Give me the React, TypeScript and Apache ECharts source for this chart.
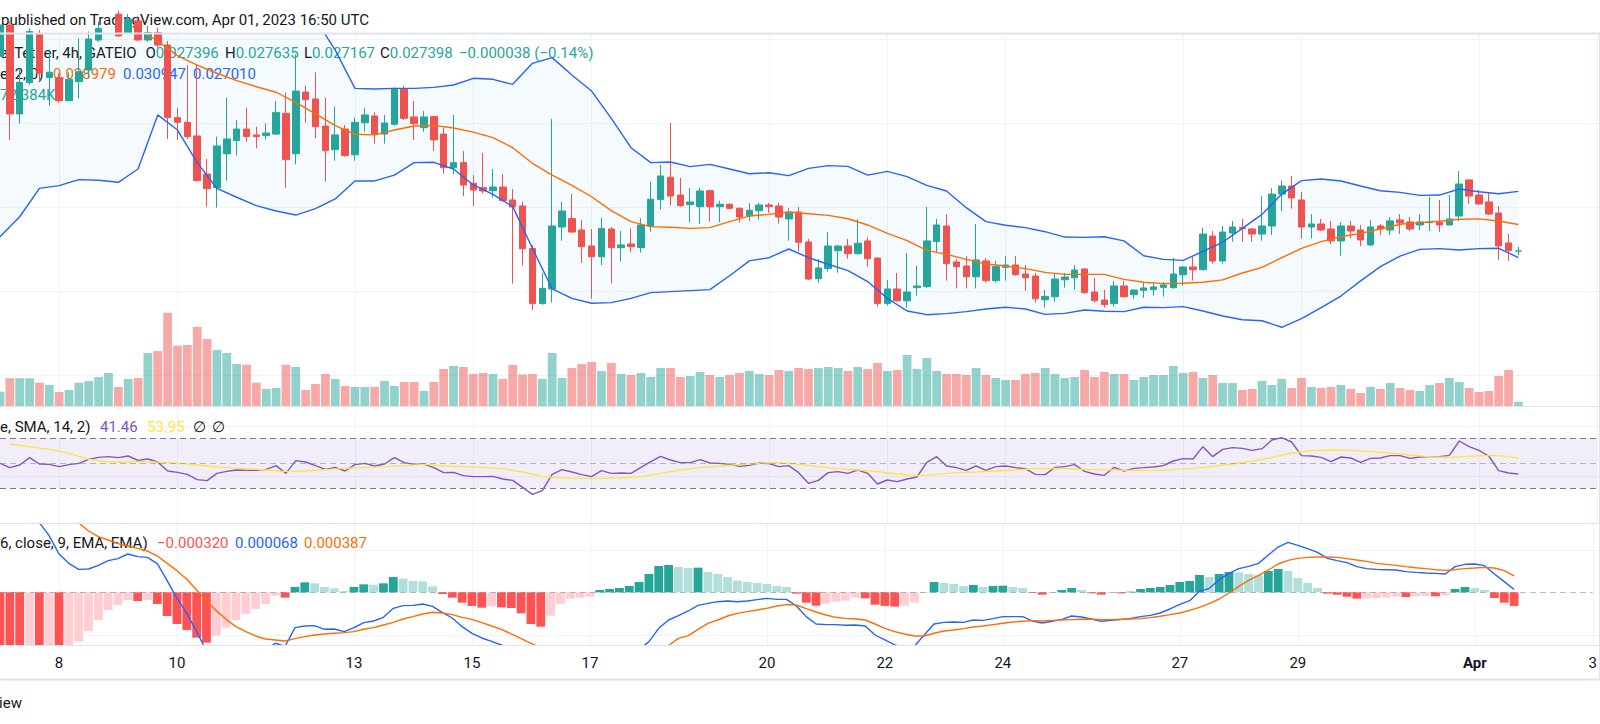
import React, { useEffect, useRef } from "react";
import * as echarts from "echarts";

// ---------------- DATA ----------------
// 4h candles, index 0 = 2023-03-07 00:00 UTC ... last = 2023-04-01 16:00 UTC
// Prices in units of 1e-5 USDT
const OPEN = [
  3900, 4085, 3556, 3742, 4036, 3772,
  3772, 3635, 3748, 3817, 3996, 4070, 4150, 4035, 4110, 3996,
  4040, 3966, 3534, 3506, 3425, 3198, 3117, 3319, 3397, 3466,
  3431, 3427, 3436, 3559, 3319, 3686, 3645, 3484, 3343, 3466,
  3313, 3504, 3544, 3436, 3494, 3704, 3538, 3474, 3540, 3436,
  3236, 3266, 3143, 3117, 3099, 3121, 3044, 3008, 2756, 2427,
  2514, 2883, 2933, 2865, 2770, 2706, 2871, 2760, 2782, 2760,
  2887, 3046, 3179, 3073, 3016, 3004, 3099, 3004, 3018, 2994,
  2950, 2980, 3014, 3008, 2931, 2972, 2794, 2575, 2635, 2742,
  2770, 2724, 2800, 2698, 2427, 2514, 2444, 2522, 2528, 2796,
  2889, 2675, 2651, 2587, 2681, 2564, 2643, 2657, 2603, 2591,
  2450, 2468, 2569, 2581, 2633, 2496, 2448, 2427, 2532, 2480,
  2506, 2510, 2524, 2522, 2599, 2645, 2629, 2829, 2681, 2847,
  2879, 2871, 2841, 2889, 3079, 3127, 3044, 2883, 2901, 2871,
  2800, 2889, 2865, 2776, 2889, 2865, 2925, 2913, 2895, 2909,
  2911, 2895, 2948, 3163, 3073, 3032, 2966, 2788, 2739.6,
];
const HIGH = [
  4120, 4105, 3827, 4065, 4055, 3927,
  3798, 3804, 4006, 4046, 4105, 4200, 4170, 4150, 4140, 4080,
  4070, 3990, 3593, 3847, 3847, 3288, 3421, 3653, 3520, 3593,
  3480, 3500, 3633, 3684, 3911, 3724, 3804, 3653, 3599, 3490,
  3534, 3593, 3565, 3550, 3714, 3724, 3633, 3573, 3546, 3474,
  3550, 3335, 3192, 3323, 3228, 3198, 3109, 3034, 2776, 2609,
  3526, 3032, 3079, 2923, 2871, 2937, 2883, 2859, 2875, 2935,
  3153, 3252, 3502, 3175, 3115, 3115, 3105, 3040, 3024, 3000,
  3024, 3028, 3026, 3026, 2996, 3002, 2812, 2692, 2853, 2776,
  2812, 2931, 2823, 2700, 2568, 2609, 2728, 2653, 3002, 2931,
  2960, 2692, 2710, 2901, 2698, 2681, 2710, 2710, 2657, 2609,
  2508, 2609, 2609, 2657, 2639, 2579, 2508, 2562, 2562, 2510,
  2552, 2556, 2556, 2698, 2651, 2710, 2879, 2859, 2889, 2919,
  2931, 2877, 3067, 3113, 3159, 3187, 3091, 2960, 2931, 2919,
  2913, 2919, 2895, 2925, 2901, 2942, 2960, 2942, 2960, 3062,
  3044, 3073, 3216, 3165, 3103, 3091, 3008, 2841, 2763.5,
];
const LOW = [
  3850, 3401, 3498, 3728, 3748, 3605,
  3623, 3630, 3649, 3768, 3986, 4040, 4016, 4030, 3990, 3985,
  3950, 3407, 3401, 3407, 3153, 3004, 2998, 3159, 3308, 3391,
  3351, 3405, 3431, 3117, 3256, 3504, 3411, 3153, 3278, 3302,
  3278, 3450, 3379, 3379, 3486, 3520, 3401, 3450, 3335, 3200,
  3196, 3067, 3008, 3083, 3058, 3035, 2546, 2653, 2389, 2420,
  2433, 2802, 2849, 2669, 2456, 2657, 2546, 2677, 2732, 2730,
  2855, 2988, 3010, 3004, 2909, 2901, 2915, 2911, 2988, 2909,
  2919, 2929, 2966, 2903, 2802, 2736, 2568, 2552, 2617, 2611,
  2694, 2720, 2647, 2409, 2415, 2439, 2403, 2474, 2520, 2732,
  2564, 2518, 2518, 2518, 2552, 2552, 2564, 2593, 2504, 2433,
  2403, 2439, 2522, 2510, 2486, 2433, 2403, 2409, 2462, 2456,
  2462, 2474, 2468, 2516, 2534, 2564, 2625, 2665, 2665, 2796,
  2796, 2796, 2802, 2835, 2978, 2992, 2814, 2814, 2859, 2782,
  2710, 2817, 2770, 2770, 2835, 2835, 2841, 2859, 2865, 2859,
  2853, 2893, 2919, 3020, 3014, 2954, 2687, 2681, 2716.7,
];
const CLOSE = [
  4085, 3556, 3744, 4046, 3798, 3804,
  3635, 3762, 3807, 4002, 4065, 4150, 4020, 4120, 3996, 4040,
  3966, 3534, 3506, 3421, 3159, 3111, 3365, 3407, 3466, 3421,
  3421, 3442, 3565, 3284, 3692, 3641, 3480, 3337, 3431, 3308,
  3506, 3550, 3436, 3502, 3704, 3530, 3498, 3538, 3401, 3236,
  3266, 3133, 3103, 3097, 3121, 3040, 3002, 2754, 2427, 2518,
  2889, 2978, 2853, 2766, 2706, 2875, 2760, 2776, 2766, 2895,
  3048, 3187, 3067, 3010, 3032, 3097, 3004, 3018, 2994, 2942,
  2982, 3014, 3004, 2942, 2972, 2792, 2573, 2639, 2770, 2770,
  2724, 2786, 2694, 2427, 2514, 2444, 2496, 2532, 2800, 2895,
  2665, 2647, 2587, 2687, 2564, 2647, 2657, 2599, 2581, 2456,
  2470, 2573, 2585, 2627, 2492, 2444, 2421, 2532, 2468, 2508,
  2520, 2526, 2538, 2603, 2645, 2629, 2841, 2681, 2853, 2883,
  2873, 2841, 2889, 3079, 3127, 3056, 2883, 2901, 2865, 2800,
  2889, 2859, 2806, 2883, 2871, 2919, 2907, 2871, 2913, 2913,
  2895, 2931, 3139, 3067, 3020, 2960, 2770, 2743.6, 2739.8,
];
// Volume in thousands
const VOLUME_K = [
  241, 465, 465, 465, 392, 353,
  235, 269, 392, 420, 487, 554, 319, 454, 470, 890,
  924, 1568, 1014, 1025, 1327, 1126, 941, 890, 706, 694,
  392, 286, 302, 694, 655, 269, 370, 538, 454, 336,
  319, 319, 319, 420, 336, 403, 403, 252, 403, 622,
  672, 655, 538, 554, 538, 454, 689, 530, 538, 454,
  890, 470, 638, 706, 739, 588, 722, 538, 521, 554,
  487, 638, 638, 487, 504, 571, 521, 487, 521, 554,
  588, 538, 521, 605, 588, 638, 622, 638, 655, 638,
  588, 655, 622, 722, 588, 605, 857, 622, 806, 588,
  538, 538, 521, 638, 521, 470, 437, 437, 538, 554,
  638, 538, 470, 487, 605, 487, 571, 538, 538, 437,
  487, 521, 521, 672, 554, 571, 470, 521, 386, 386,
  269, 286, 420, 353, 454, 302, 470, 319, 302, 319,
  353, 286, 218, 319, 286, 386, 302, 269, 252, 353,
  386, 470, 403, 302, 235, 252, 504, 605, 72.384,
];
// Bollinger bands (20, 2), sampled every second candle from the first, plus the last candle
const BB_UPPER = [
  5735, 5596, 5387, 5311, 5215, 5139, 5071, 4892, 4430, 4346,
  4428, 4483, 4448, 4426, 4392, 4296, 4120, 3936, 3708, 3704,
  3708, 3708, 3714, 3728, 3768, 3762, 3732, 3857, 3891, 3788,
  3692, 3530, 3355, 3266, 3270, 3242, 3256, 3228, 3200, 3206,
  3189, 3232, 3248, 3244, 3192, 3214, 3183, 3131, 3097, 2998,
  2915, 2893, 2879, 2855, 2823, 2821, 2825, 2800, 2712, 2690,
  2684, 2738, 2792, 2875, 2958, 3079, 3159, 3169, 3157, 3127,
  3099, 3089, 3071, 3073, 3109, 3093, 3081, 3094.7,
];
const BB_BASIS = [
  4280, 4270, 4250, 4220, 4190, 4150, 4110, 4060, 3990, 3903,
  3847, 3798, 3754, 3718, 3685, 3625, 3556, 3486, 3435, 3431,
  3460, 3484, 3488, 3472, 3448, 3415, 3355, 3262, 3192, 3131,
  3063, 2980, 2915, 2885, 2881, 2875, 2879, 2915, 2948, 2958,
  2972, 2962, 2952, 2932, 2895, 2845, 2802, 2744, 2720, 2690,
  2663, 2651, 2635, 2613, 2601, 2601, 2601, 2571, 2554, 2546,
  2548, 2554, 2568, 2609, 2643, 2700, 2756, 2796, 2825, 2845,
  2871, 2899, 2909, 2917, 2929, 2931, 2919, 2897.9,
];
const BB_LOWER = [
  2825, 2944, 3113, 3129, 3165, 3161, 3149, 3228, 3550, 3460,
  3266, 3113, 3060, 3010, 2978, 2954, 2992, 3050, 3157, 3157,
  3192, 3266, 3268, 3228, 3133, 3077, 3004, 2756, 2514, 2458,
  2429, 2433, 2458, 2492, 2498, 2504, 2510, 2593, 2681, 2700,
  2752, 2700, 2661, 2623, 2558, 2458, 2383, 2361, 2367, 2379,
  2395, 2405, 2395, 2363, 2369, 2389, 2381, 2379, 2405, 2403,
  2409, 2383, 2353, 2331, 2325, 2286, 2337, 2403, 2472, 2562,
  2647, 2710, 2750, 2754, 2746, 2754, 2756, 2701,
];
// RSI (14), one value per candle
const RSI = [
  50.0, 46.53, 48.67, 54.53, 49.47, 49.2,
  47.33, 48.93, 50, 53.2, 54.8, 55.33, 54.53, 55.87, 52.4, 53.47,
  51.07, 43.87, 42.8, 41.2, 36.93, 36.13, 42, 43.6, 44.67, 44.4,
  44.4, 45.2, 48.13, 42, 52.13, 51.07, 48.13, 45.2, 46.8, 43.87,
  48.93, 50, 47.87, 49.47, 54.53, 50.53, 49.2, 49.47, 46.53, 42.53,
  42.8, 40.13, 39.33, 39.33, 39.6, 37.47, 36.4, 30.8, 25.2, 28.13,
  41.2, 44.93, 43.07, 40.93, 39.33, 44.13, 42, 42.27, 42, 46.8,
  51.33, 55.6, 52.67, 50.53, 50.53, 52.93, 50.27, 50, 49.2, 47.6,
  48.4, 50.27, 49.73, 47.33, 48.13, 42.53, 34, 36.4, 42.53, 43.33,
  42, 44.67, 42, 33.47, 36.67, 35.33, 37.47, 39.07, 50.8, 55.33,
  47.87, 46.53, 44.4, 47.87, 44.4, 47.33, 47.87, 46.53, 45.73, 41.2,
  40.93, 46.8, 47.33, 48.93, 43.6, 41.47, 40.4, 46.8, 43.87, 46,
  46.53, 47.07, 48.13, 51.87, 53.73, 53.47, 63.33, 55.33, 61.2, 62.53,
  62, 60.4, 61.73, 68.67, 70.53, 67.07, 56.13, 55.87, 54.8, 51.33,
  55.07, 54.27, 50.8, 54, 54.27, 56.13, 56.13, 54, 55.07, 55.33,
  55.33, 56.4, 67.87, 63.33, 60.4, 55.87, 44.13, 42.27, 41.46,
];
// RSI-based SMA (14), sampled every second candle from the second, plus the last candle
const RSI_MA = [
  65.47, 63.33, 61.2, 58, 53.2, 51.07, 51.07, 51.33, 50.53, 49.47,
  47.87, 46.53, 45.73, 44.67, 43.33, 43.87, 44.93, 46, 46.8, 47.33,
  48.13, 49.2, 47.87, 47.33, 46.8, 45.73, 43.07, 39.33, 38.27, 37.73,
  38, 38.27, 39.33, 42, 44.67, 46.53, 47.87, 48.93, 50, 50.53,
  49.2, 47.33, 45.73, 44.67, 43.33, 41.47, 40.13, 41.2, 42.53, 43.07,
  43.87, 44.67, 45.73, 46, 45.47, 44.93, 44.67, 44.4, 44.4, 44.93,
  46, 47.6, 49.47, 51.87, 54.53, 58.27, 60.13, 60.67, 60.4, 59.33,
  58.27, 56.67, 55.33, 54.8, 55.6, 56.4, 55.6, 53.95,
];
// MACD (12, 26, 9), units of 1e-6
const MACD_LINE = [
  3100, 2750, 2350, 2050, 1640, 1333,
  902, 682, 541, 549, 635, 745, 792, 902, 839, 823,
  674, 274, -141, -494, -925, -1380, -1450, -1466, -1459, -1435,
  -1419, -1372, -1199, -1270, -831, -792, -784, -870, -862, -925,
  -831, -713, -674, -588, -376, -314, -306, -274, -329, -478,
  -604, -808, -964, -1074, -1152, -1239, -1348, -1584, -1945, -2108,
  -1929, -1714, -1639, -1655, -1662, -1525, -1517, -1498, -1451, -1355,
  -1160, -847, -651, -549, -439, -306, -259, -220, -204, -220,
  -204, -172, -141, -165, -165, -321, -572, -745, -760, -760,
  -776, -768, -792, -1004, -1121, -1239, -1294, -1270, -1004, -745,
  -706, -698, -706, -651, -659, -619, -572, -572, -572, -674,
  -721, -682, -635, -557, -580, -627, -682, -659, -643, -612,
  -572, -541, -486, -392, -282, -196, 24, 94, 298, 447,
  557, 612, 682, 878, 1066, 1176, 1105, 1027, 941, 800,
  745, 698, 604, 557, 541, 533, 525, 486, 470, 455,
  447, 431, 604, 659, 666, 627, 431, 251, 68,
];
const MACD_SIGNAL = [
  4600, 4350, 4050, 3700, 3400, 3050,
  2652, 1982, 1639, 1443, 1309, 1231, 1145, 1090, 1035, 972,
  855, 682, 510, 306, 55, -196, -431, -635, -808, -925,
  -1027, -1098, -1121, -1145, -1090, -1043, -1004, -980, -964, -949,
  -925, -870, -831, -768, -706, -627, -572, -510, -470, -486,
  -525, -588, -635, -713, -792, -870, -980, -1090, -1200, -1300,
  -1380, -1440, -1490, -1530, -1560, -1580, -1595, -1600, -1600, -1598,
  -1591, -1450, -1250, -1082, -1019, -870, -729, -651, -557, -494,
  -455, -416, -376, -321, -290, -298, -384, -463, -533, -588,
  -612, -627, -651, -745, -847, -925, -980, -1027, -1027, -964,
  -909, -886, -855, -815, -792, -760, -729, -698, -682, -666,
  -674, -659, -651, -643, -635, -635, -643, -643, -635, -627,
  -619, -596, -564, -525, -486, -423, -353, -267, -157, -16,
  141, 282, 400, 525, 666, 753, 800, 823, 831, 831,
  823, 792, 760, 729, 682, 659, 635, 604, 580, 557,
  533, 517, 533, 557, 572, 588, 572, 510, 387,
];
const MACD_HIST = [
  -1500, -1600, -1700, -1650, -1760, -1720,
  -1750, -1300, -1160, -909, -651, -416, -298, -180, -204, -180,
  -274, -557, -745, -886, -1066, -1184, -1019, -831, -651, -510,
  -392, -274, -78, -125, 125, 235, 212, 125, 94, 31,
  125, 188, 180, 212, 361, 321, 267, 259, 141, -39,
  -125, -243, -321, -361, -329, -353, -368, -494, -745, -808,
  -549, -274, -149, -125, -102, 55, 78, 102, 149, 243,
  431, 619, 643, 596, 572, 580, 478, 431, 361, 274,
  243, 220, 196, 149, 125, -31, -243, -314, -267, -220,
  -196, -125, -141, -290, -321, -337, -314, -243, -16, 243,
  220, 196, 149, 172, 125, 149, 157, 125, 102, -16,
  -55, -16, 55, 102, 55, -24, -55, -16, -24, 16,
  78, 102, 125, 172, 243, 267, 408, 361, 431, 478,
  470, 431, 408, 502, 549, 502, 337, 220, 102, -31,
  -55, -102, -149, -141, -133, -125, -102, -110, -94, -86,
  -94, -78, 78, 125, 102, 55, -133, -243, -320,
];
const TICK_DATES = [
  "2023-03-08 00:00", "2023-03-10 00:00", "2023-03-13 00:00", "2023-03-15 00:00",
  "2023-03-17 00:00", "2023-03-20 00:00", "2023-03-22 00:00", "2023-03-24 00:00",
  "2023-03-27 00:00", "2023-03-29 00:00", "2023-04-01 00:00", "2023-04-03 00:00",
];
const TICK_LABELS = ["8", "10", "13", "15", "17", "20", "22", "24", "27", "29", "Apr", "3"];
const PRICE_GRID_VALUES = { min: 2000, max: 4000, step: 500 };

// ---------------- LAYOUT / STYLE ----------------
const W = 1600;
const H = 724;
const FIRST_K = -6; // index 0 is six candles before 2023-03-08 00:00
const LAST_K = FIRST_K + CLOSE.length - 1;
const CAT_COUNT = 163; // through 2023-04-03 00:00
const START_TS = Date.UTC(2023, 2, 7, 0, 0);
const STEP_MS = 4 * 3600 * 1000;
const X0 = 56; // pixel of 2023-03-08 00:00
const STEP_PX = 9.88;
const GRID_LEFT = X0 + FIRST_K * STEP_PX;
const GRID_WIDTH = (CAT_COUNT - 1) * STEP_PX;
const PANE_W = 1599;

const MAIN_TOP = 34;
const MAIN_BOTTOM = 406;
const PRICE_REF = 3000;
const PRICE_REF_Y = 207.33;
const PRICE_PX = 84 / 500;
const PRICE_MAX = PRICE_REF + (PRICE_REF_Y - MAIN_TOP) / PRICE_PX;
const PRICE_MIN = PRICE_REF - (MAIN_BOTTOM - PRICE_REF_Y) / PRICE_PX;
const VOL_PX = 1 / 16.8;
const VOL_MAX = (MAIN_BOTTOM - MAIN_TOP) / VOL_PX;

const RSI_TOP = 406;
const RSI_BOTTOM = 523.33;
const RSI_MID_Y = 463.33;
const RSI_PX = 1.25;
const RSI_MAX = 50 + (RSI_MID_Y - RSI_TOP) / RSI_PX;
const RSI_MIN = 50 - (RSI_BOTTOM - RSI_MID_Y) / RSI_PX;

const MACD_TOP = 523.33;
const MACD_BOTTOM = 645;
const MACD_ZERO_Y = 592.33;
const MACD_PX = 42.5 / 1000;
const MACD_MAX = (MACD_ZERO_Y - MACD_TOP) / MACD_PX;
const MACD_MIN = -(MACD_BOTTOM - MACD_ZERO_Y) / MACD_PX;

const UP = "#26a69a";
const DOWN = "#ef5350";
const VOL_UP = "rgba(38,166,154,0.5)";
const VOL_DOWN = "rgba(239,83,80,0.5)";
const BLUE = "#2962ff";
const ORANGE = "#ff6d00";
const PURPLE = "#7e57c2";
const YELLOW = "#fde541";
const GRID_C = "#f0f3fa";
const SEP_C = "#e0e3eb";
const TEXT_C = "#131722";
const FONT = "Roboto, sans-serif";
const FONT_SIZE = 15;
const LINE_W = 1.4;

const pad = (n: number) => String(n).padStart(2, "0");
const CATEGORIES = Array.from({ length: CAT_COUNT }, (_, i) => {
  const d = new Date(START_TS + i * STEP_MS);
  return `${d.getUTCFullYear()}-${pad(d.getUTCMonth() + 1)}-${pad(d.getUTCDate())} ${pad(d.getUTCHours())}:00`;
});
const TICK_MAP = new Map(TICK_DATES.map((d, i) => [d, TICK_LABELS[i]]));
const isTick = (_i: number, v: string) => TICK_MAP.has(v);

function buildOption() {
  const kOf = (i: number) => FIRST_K + i;
  const bandK = (i: number, n: number) => (i === n - 1 ? LAST_K : FIRST_K + 2 * i);
  const maK = (i: number, n: number) => (i === n - 1 ? LAST_K : FIRST_K + 1 + 2 * i);

  const candles = OPEN.map((o, i) => [o, CLOSE[i], LOW[i], HIGH[i]]);
  const volume = VOLUME_K.map((v, i) => ({
    value: v,
    itemStyle: { color: CLOSE[i] >= OPEN[i] ? VOL_UP : VOL_DOWN },
  }));
  const nB = BB_UPPER.length;
  const upper = BB_UPPER.map((v, i) => [bandK(i, nB), v]);
  const basis = BB_BASIS.map((v, i) => [bandK(i, nB), v]);
  const lower = BB_LOWER.map((v, i) => [bandK(i, nB), v]);
  const rsi = RSI.map((v, i) => [kOf(i), v]);
  const rsiMa = RSI_MA.map((v, i) => [maK(i, RSI_MA.length), v]);
  const macd = MACD_LINE.map((v, i) => [kOf(i), v]);
  const signal = MACD_SIGNAL.map((v, i) => [kOf(i), v]);
  const hist = MACD_HIST.map((v, i) => {
    const prev = i > 0 ? MACD_HIST[i - 1] : Infinity;
    const color = v >= 0 ? (v > prev ? "#26a69a" : "#b2dfdb") : v < prev ? "#ff5252" : "#ffcdd2";
    return { value: v, itemStyle: { color } };
  });

  const catAxis = (gridIndex: number, labels: boolean) => ({
    type: "category",
    gridIndex,
    data: CATEGORIES,
    boundaryGap: false,
    axisLine: { show: false },
    axisTick: { show: false },
    axisLabel: labels
      ? {
          show: true,
          interval: isTick,
          formatter: (v: string) => {
            const t = TICK_MAP.get(v) || "";
            return /^[A-Za-z]/.test(t) ? `{m|${t}}` : t;
          },
          color: TEXT_C,
          fontSize: FONT_SIZE,
          fontFamily: FONT,
          margin: 18,
          verticalAlign: "middle",
          rich: { m: { fontWeight: "bold", fontSize: FONT_SIZE, fontFamily: FONT, color: TEXT_C } },
        }
      : { show: false },
    splitLine: { show: true, interval: isTick, lineStyle: { color: GRID_C, width: 1 } },
  });
  const kAxis = (gridIndex: number) => ({
    type: "value",
    gridIndex,
    min: FIRST_K,
    max: FIRST_K + CAT_COUNT - 1,
    show: false,
  });
  const hiddenAxis = (gridIndex: number) => ({ type: "value", gridIndex, min: 0, max: 1, show: false });
  const lineAxis = (gridIndex: number, min: number, max: number, interval: number) => ({
    type: "value",
    gridIndex,
    min,
    max,
    interval,
    axisLine: { show: false },
    axisTick: { show: false },
    axisLabel: { show: false },
    splitLine: { show: true, lineStyle: { color: GRID_C, width: 1 } },
  });
  const plainLine = (name: string, x: number, y: number, data: any[], color: string, extra: any = {}) => ({
    name,
    type: "line",
    xAxisIndex: x,
    yAxisIndex: y,
    data,
    symbol: "none",
    showSymbol: false,
    silent: true,
    lineStyle: { color, width: LINE_W },
    ...extra,
  });

  const font = `${FONT_SIZE}px ${FONT}`;
  const txt = (text: string, x: number, y: number, fill: string, extra: any = {}) => ({
    type: "text",
    x,
    y,
    silent: true,
    z: 1,
    style: {
      text,
      fill,
      font,
      textAlign: "left",
      textVerticalAlign: "middle",
      verticalAlign: "middle",
      ...extra,
    },
  });
  // label letter (dark) followed by a coloured value, as one text
  const pair = (label: string, value: string, x: number, y: number, color: string) =>
    txt(`{l|${label}}{v|${value}}`, x, y, TEXT_C, {
      rich: {
        l: { fill: TEXT_C, color: TEXT_C, font, fontSize: FONT_SIZE, fontFamily: FONT },
        v: { fill: color, color, font, fontSize: FONT_SIZE, fontFamily: FONT },
      },
    });
  const sep = (y: number, h: number) => ({
    type: "rect",
    silent: true,
    z: 100,
    shape: { x: 0, y, width: W, height: h },
    style: { fill: SEP_C },
  });

  const priceLineTop = PRICE_REF_Y - (PRICE_GRID_VALUES.max - PRICE_REF) * PRICE_PX;
  const priceLineH = (PRICE_GRID_VALUES.max - PRICE_GRID_VALUES.min) * PRICE_PX;

  return {
    animation: false,
    backgroundColor: "#ffffff",
    textStyle: { fontFamily: FONT },
    grid: [
      { left: 0, width: PANE_W, top: priceLineTop, height: priceLineH },
      { left: GRID_LEFT, width: GRID_WIDTH, top: MAIN_TOP, height: MAIN_BOTTOM - MAIN_TOP },
      { left: 0, width: PANE_W, top: RSI_MID_Y - 30 * RSI_PX, height: 40 * RSI_PX },
      { left: GRID_LEFT, width: GRID_WIDTH, top: RSI_TOP, height: RSI_BOTTOM - RSI_TOP },
      { left: 0, width: PANE_W, top: MACD_ZERO_Y - 1000 * MACD_PX, height: 2000 * MACD_PX },
      { left: GRID_LEFT, width: GRID_WIDTH, top: MACD_TOP, height: MACD_BOTTOM - MACD_TOP },
    ],
    xAxis: [
      hiddenAxis(0),
      catAxis(1, false),
      kAxis(1),
      hiddenAxis(2),
      catAxis(3, false),
      kAxis(3),
      hiddenAxis(4),
      catAxis(5, true),
      kAxis(5),
    ],
    yAxis: [
      lineAxis(0, PRICE_GRID_VALUES.min, PRICE_GRID_VALUES.max, PRICE_GRID_VALUES.step),
      { type: "value", gridIndex: 1, min: PRICE_MIN, max: PRICE_MAX, show: false },
      { type: "value", gridIndex: 1, min: 0, max: VOL_MAX, show: false },
      lineAxis(2, 40, 80, 40),
      { type: "value", gridIndex: 3, min: RSI_MIN, max: RSI_MAX, show: false },
      lineAxis(4, -1000, 1000, 2000),
      { type: "value", gridIndex: 5, min: MACD_MIN, max: MACD_MAX, show: false },
    ],
    series: [
      {
        name: "BB fill",
        type: "custom",
        xAxisIndex: 2,
        yAxisIndex: 1,
        silent: true,
        clip: true,
        z: 1,
        data: [[FIRST_K, PRICE_REF]],
        renderItem: (_params: any, api: any) => {
          const pts = upper.map((p) => api.coord(p));
          for (let i = lower.length - 1; i >= 0; i--) pts.push(api.coord(lower[i]));
          return {
            type: "polygon",
            shape: { points: pts },
            style: { fill: "rgba(33,150,243,0.05)" },
            silent: true,
          };
        },
      },
      {
        name: "Volume",
        type: "bar",
        xAxisIndex: 1,
        yAxisIndex: 2,
        barWidth: 8.8,
        silent: true,
        data: volume,
      },
      plainLine("Upper", 2, 1, upper, BLUE),
      plainLine("Lower", 2, 1, lower, BLUE),
      plainLine("Basis", 2, 1, basis, ORANGE),
      {
        name: "Price",
        type: "candlestick",
        xAxisIndex: 1,
        yAxisIndex: 1,
        barWidth: 7,
        silent: true,
        clip: true,
        data: candles,
        itemStyle: {
          color: UP,
          color0: DOWN,
          borderColor: UP,
          borderColor0: DOWN,
          borderWidth: 1,
        },
      },
      plainLine("RSI", 5, 4, rsi, PURPLE, {
        markArea: {
          silent: true,
          itemStyle: { color: "rgba(126,87,194,0.1)" },
          data: [[{ yAxis: 30 }, { yAxis: 70 }]],
        },
        markLine: {
          silent: true,
          symbol: ["none", "none"],
          label: { show: false },
          data: [
            { yAxis: 70, lineStyle: { color: "#787b86", type: [6, 4], width: 1 } },
            { yAxis: 50, lineStyle: { color: "rgba(120,123,134,0.5)", type: [6, 4], width: 1 } },
            { yAxis: 30, lineStyle: { color: "#787b86", type: [6, 4], width: 1 } },
          ],
        },
      }),
      plainLine("RSI MA", 5, 4, rsiMa, YELLOW),
      {
        name: "Histogram",
        type: "bar",
        xAxisIndex: 7,
        yAxisIndex: 6,
        barWidth: 8.8,
        silent: true,
        data: hist,
        markLine: {
          silent: true,
          symbol: ["none", "none"],
          label: { show: false },
          data: [{ yAxis: 0, lineStyle: { color: "rgba(120,123,134,0.5)", type: [6, 4], width: 1 } }],
        },
      },
      plainLine("MACD", 8, 6, macd, BLUE),
      plainLine("Signal", 8, 6, signal, ORANGE),
    ],
    graphic: {
      elements: [
        txt("published on TradingView.com, Apr 01, 2023 16:50 UTC", 1, 20, TEXT_C),
        // main legend
        txt("e/Tether, 4h, GATEIO", 0, 53.3, TEXT_C),
        pair("O", "0.027396", 145.5, 53.3, UP),
        pair("H", "0.027635", 225, 53.3, UP),
        pair("L", "0.027167", 304, 53.3, UP),
        pair("C", "0.027398", 380, 53.3, UP),
        txt("\u22120.000038 (\u22120.14%)", 459, 53.3, UP),
        txt("e, 2, 0)", 0, 74.3, TEXT_C),
        txt("0.028979", 53, 74.3, ORANGE),
        txt("0.030947", 123, 74.3, BLUE),
        txt("0.027010", 193, 74.3, BLUE),
        txt("72.384K", 0, 95, UP),
        // RSI legend
        txt("e, SMA, 14, 2)", 0, 426.7, TEXT_C),
        txt("41.46", 100, 426.7, PURPLE),
        txt("53.95", 147, 426.7, YELLOW),
        txt("\u2205", 193, 426.7, TEXT_C),
        txt("\u2205", 212, 426.7, TEXT_C),
        // MACD legend
        txt("6, close, 9, EMA, EMA)", 0, 543.3, TEXT_C),
        txt("\u22120.000320", 157, 543.3, "#ff5252"),
        txt("0.000068", 235, 543.3, BLUE),
        txt("0.000387", 304, 543.3, ORANGE),
        // footer
        txt("View", 22, 703, TEXT_C, { textAlign: "right", align: "right" }),
        // separators
        sep(32.5, 2),
        sep(406, 1),
        sep(523, 1),
        sep(645, 1),
        sep(678.5, 2),
        {
          type: "rect",
          silent: true,
          z: 100,
          shape: { x: PANE_W, y: 33, width: 1, height: 646 },
          style: { fill: SEP_C },
        },
      ],
    },
  };
}

export default function App() {
  const ref = useRef<HTMLDivElement | null>(null);
  useEffect(() => {
    if (!ref.current) return;
    const chart = echarts.init(ref.current, null, { renderer: "svg" });
    chart.setOption(buildOption() as any);
    return () => chart.dispose();
  }, []);
  return (
    <div
      ref={ref}
      style={{ position: "fixed", left: 0, top: 0, width: W, height: H, background: "#ffffff" }}
    />
  );
}
